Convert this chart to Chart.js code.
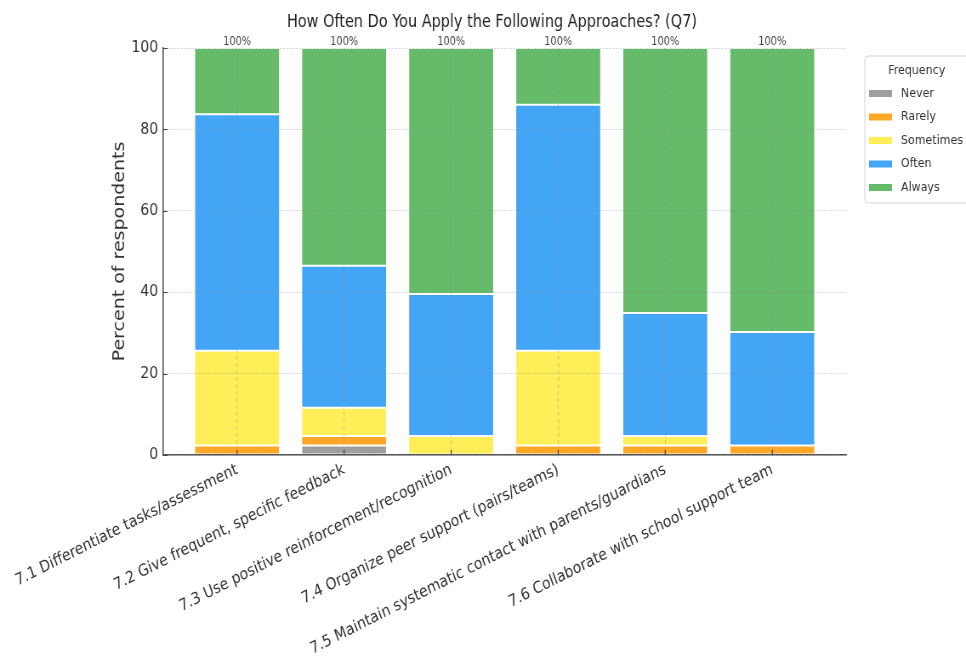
<!DOCTYPE html>
<html>
<head>
<meta charset="utf-8">
<title>How Often Do You Apply the Following Approaches? (Q7)</title>
<script src="https://cdn.jsdelivr.net/npm/chart.js@4.4.1/dist/chart.umd.min.js"></script>
<style>
  html, body { margin: 0; padding: 0; overflow: hidden; background: #ffffff; width: 966px; height: 656px; }
  /* the chart is laid out on a wider canvas and narrowed horizontally to 966px */
  #wrap { position: absolute; left: 0; top: 0; width: 1136px; height: 656px; transform: scaleX(0.85035); transform-origin: 0 0; }
</style>
</head>
<body>
<div id="wrap"><canvas id="chart"></canvas></div>
<script>
// Survey item Q7: share of respondents (%) per answer, one value per approach
const categories = [
  '7.1 Differentiate tasks/assessment',
  '7.2 Give frequent, specific feedback',
  '7.3 Use positive reinforcement/recognition',
  '7.4 Organize peer support (pairs/teams)',
  '7.5 Maintain systematic contact with parents/guardians',
  '7.6 Collaborate with school support team'
];
const levels = ['Never', 'Rarely', 'Sometimes', 'Often', 'Always'];
const never     = [0,     2.33,  0,     0,     0,     0];
const rarely    = [2.33,  2.33,  0,     2.33,  2.33,  2.33];
const sometimes = [23.26, 6.98,  4.65,  23.26, 2.33,  0];
const often     = [58.14, 34.88, 34.88, 60.47, 30.23, 27.91];
const always    = [16.28, 53.49, 60.47, 13.95, 65.12, 69.77];
const yTickValues = [0, 20, 40, 60, 80, 100];

const chartTitle = 'How Often Do You Apply the Following Approaches? (Q7)';
const yAxisTitle = 'Percent of respondents';
const legendTitle = 'Frequency';

const palette = ['#9e9e9e', '#ffa726', '#ffee58', '#42a5f5', '#66bb6a'];
const FONT = "'DejaVu Sans', 'Noto Sans', sans-serif";
Chart.defaults.font.family = FONT;

const series = [never, rarely, sometimes, often, always];
const datasets = series.map((values, k) => ({
  label: levels[k],
  data: values.map((v, i) => ({ x: i, y: v })),
  backgroundColor: palette[k],
  borderColor: 'rgba(255,255,255,0.35)',
  borderWidth: 1,
  borderSkipped: false,
  barPercentage: 0.8,
  categoryPercentage: 1.0
}));

// "100%" above every stacked column
const totalLabels = {
  id: 'totalLabels',
  afterDatasetsDraw(chart) {
    const { ctx, scales: { x, y } } = chart;
    ctx.save();
    ctx.font = '11.5px ' + FONT;
    ctx.fillStyle = '#444444';
    ctx.textAlign = 'center';
    ctx.textBaseline = 'alphabetic';
    categories.forEach((_, i) => {
      const total = chart.data.datasets.reduce((s, d) => s + d.data[i].y, 0);
      ctx.fillText(Math.round(total) + '%', x.getPixelForValue(i), y.getPixelForValue(total) - 3);
    });
    ctx.restore();
  }
};

// short tick marks pointing into the plot
const inwardTicks = {
  id: 'inwardTicks',
  afterDraw(chart) {
    const { ctx, chartArea: a, scales: { x, y } } = chart;
    ctx.save();
    ctx.strokeStyle = '#444444';
    ctx.lineWidth = 1.2;
    ctx.beginPath();
    y.ticks.forEach(t => {
      const py = Math.round(y.getPixelForValue(t.value)) + 0.5;
      ctx.moveTo(a.left, py);
      ctx.lineTo(a.left + 5, py);
    });
    x.ticks.forEach(t => {
      const px = x.getPixelForValue(t.value);
      ctx.moveTo(px, a.bottom);
      ctx.lineTo(px, a.bottom - 5);
    });
    ctx.stroke();
    ctx.restore();
  }
};

// framed legend to the right of the plot
const sideLegend = {
  id: 'sideLegend',
  afterDraw(chart) {
    const { ctx, chartArea: a } = chart;
    const left = a.right + 22, top = a.top + 8, bottom = a.top + 155;
    ctx.save();
    ctx.beginPath();
    ctx.roundRect(left, top, 160, bottom - top, 4);
    ctx.fillStyle = 'rgba(255,255,255,0.85)';
    ctx.fill();
    ctx.strokeStyle = '#d2d2d2';
    ctx.lineWidth = 1;
    ctx.stroke();
    ctx.font = '13px ' + FONT;
    ctx.fillStyle = '#333333';
    ctx.textBaseline = 'middle';
    ctx.textAlign = 'center';
    ctx.fillText(legendTitle, left + 61, top + 15);
    ctx.textAlign = 'left';
    chart.data.datasets.forEach((d, k) => {
      const cy = top + 37.5 + k * 23.5;
      ctx.fillStyle = d.backgroundColor;
      ctx.fillRect(left + 5, cy - 3.5, 27, 7);
      ctx.fillStyle = '#333333';
      ctx.fillText(d.label, left + 42.5, cy);
    });
    ctx.restore();
  }
};

// title sits slightly left of the plot centre
const titleOffset = {
  id: 'titleOffset',
  afterLayout(chart) {
    const t = chart.titleBlock;
    if (!t) return;
    const target = (chart.chartArea.left + chart.chartArea.right) / 2 - 15;
    const dx = target - (t.left + t.right) / 2;
    t.left += dx;
    t.right += dx;
  }
};

new Chart(document.getElementById('chart'), {
  type: 'bar',
  data: { datasets },
  plugins: [totalLabels, inwardTicks, sideLegend, titleOffset],
  options: {
    responsive: true,
    maintainAspectRatio: false,
    animation: false,
    layout: { padding: { left: 120, right: 141, top: 0, bottom: 0 } },
    plugins: {
      legend: { display: false },
      tooltip: { enabled: false },
      title: {
        display: true,
        text: chartTitle,
        color: '#222222',
        font: { size: 17, weight: 'normal' },
        padding: { top: 12, bottom: 15.6 }
      }
    },
    scales: {
      x: {
        type: 'linear',
        min: -0.69,
        max: 5.69,
        offset: false,
        stacked: true,
        afterBuildTicks: s => { s.ticks = categories.map((_, i) => ({ value: i })); },
        afterFit: s => { s.height = 201; s.paddingLeft = 0; s.paddingRight = 0; },
        ticks: {
          autoSkip: false,
          minRotation: 23.5,
          maxRotation: 23.5,
          padding: 5,
          color: '#333333',
          font: { size: 16.3 },
          callback: v => categories[v] ?? ''
        },
        grid: { offset: false, drawTicks: false, color: 'rgba(140,140,140,0.45)', lineWidth: 1, z: 1 },
        border: { display: true, color: '#555555', width: 1.6, dash: [4, 3], z: 2 }
      },
      y: {
        min: 0,
        max: 100,
        stacked: true,
        afterBuildTicks: s => { s.ticks = yTickValues.map(v => ({ value: v })); },
        afterFit: s => { s.width = 72; },
        ticks: { padding: 6, color: '#333333', font: { size: 16.5 } },
        grid: { drawTicks: false, color: 'rgba(140,140,140,0.4)', lineWidth: 1, z: 1 },
        border: { display: true, color: '#555555', width: 1.6, dash: [2, 2], z: 2 },
        title: {
          display: true,
          text: yAxisTitle,
          color: '#333333',
          font: { size: 19 },
          padding: { top: 10, bottom: 0 }
        }
      }
    }
  }
});
</script>
</body>
</html>
